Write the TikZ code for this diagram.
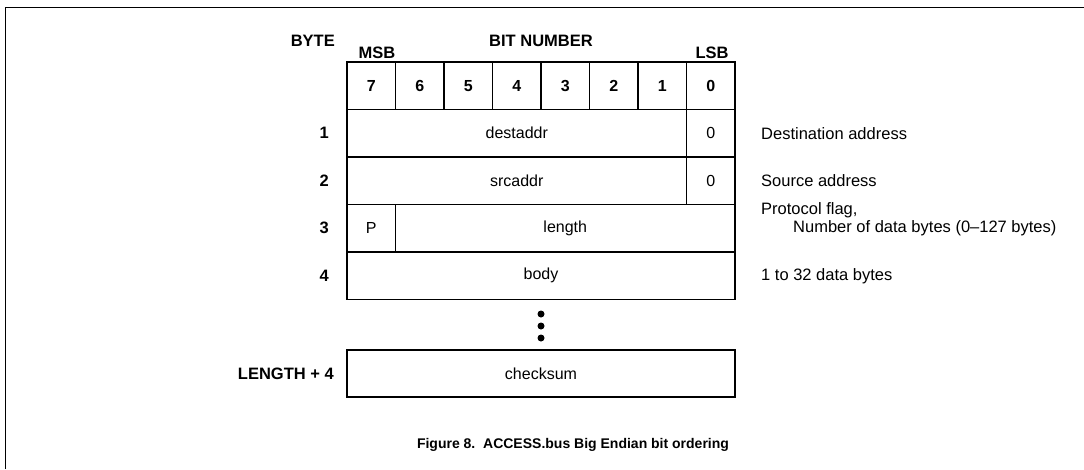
\documentclass[tikz,border=0pt]{standalone}
\usepackage{fontspec}
\setmainfont{Liberation Sans}
\begin{document}
\begin{tikzpicture}[x=1pt,y=-1pt,
  cell/.style={draw, line width=1.7pt, inner sep=0pt, font=\fontsize{16}{19}\selectfont},
  hcell/.style={cell, font=\fontsize{16}{19}\selectfont\bfseries, minimum width=48.5pt, minimum height=47.5pt},
  lbl/.style={anchor=east, inner sep=0pt, font=\fontsize{16.5}{19}\selectfont\bfseries},
  top/.style={inner sep=0pt, font=\fontsize{16.5}{19}\selectfont\bfseries},
  desc/.style={anchor=west, inner sep=0pt, font=\fontsize{16.5}{19}\selectfont},
  dot/.style={circle, fill=black, inner sep=0pt, minimum size=7pt}]
\useasboundingbox (0,0) rectangle (1084,469);
\fill[white] (0,0) rectangle (1084,469);
% frame
\draw[line width=1.7pt] (5.5,469) -- (5.5,7.5) -- (1084,7.5);
% header
\node[lbl] (byte) at (335,40.5) {BYTE};
\node[top] (bitnum) at (541,40.5) {BIT NUMBER};
\node[top] (msb) at (377,53) {MSB};
\node[top] (lsb) at (712,53) {LSB};
\node[hcell] (b7) at (371.25,85.75) {7};
\node[hcell] (b6) at (419.75,85.75) {6};
\node[hcell] (b5) at (468.25,85.75) {5};
\node[hcell] (b4) at (516.75,85.75) {4};
\node[hcell] (b3) at (565.25,85.75) {3};
\node[hcell] (b2) at (613.75,85.75) {2};
\node[hcell] (b1) at (662.25,85.75) {1};
\node[hcell] (b0) at (710.75,85.75) {0};
% row 1
\node[lbl] (r1) at (329,133.25) {1};
\node[cell, minimum width=339.5pt, minimum height=47.5pt] (dest) at (516.75,133.25) {destaddr};
\node[cell, minimum width=48.5pt, minimum height=47.5pt] (dest0) at (710.75,133.25) {0};
\node[desc] (d1) at (761,133.25) {Destination address};
% row 2
\node[lbl] (r2) at (329,180.75) {2};
\node[cell, minimum width=339.5pt, minimum height=47.5pt] (src) at (516.75,180.75) {srcaddr};
\node[cell, minimum width=48.5pt, minimum height=47.5pt] (src0) at (710.75,180.75) {0};
\node[desc] (d2) at (761,180.75) {Source address};
% row 3
\node[lbl] (r3) at (329,228.25) {3};
\node[cell, minimum width=48.5pt, minimum height=47.5pt] (p) at (371.25,228.25) {P};
\node[cell, minimum width=339.5pt, minimum height=47.5pt] (len) at (565.25,228.25) {length};
\node[desc] (d3a) at (761,210.5) {Protocol flag,};
\node[desc] (d3b) at (793,228.5) {Number of data bytes (0--127 bytes)};
% row 4
\node[lbl] (r4) at (329,275.75) {4};
\node[cell, minimum width=388pt, minimum height=47.5pt] (body) at (541,275.75) {body};
\node[desc] (d4) at (761,276) {1 to 32 data bytes};
% dots
\node[dot] (dt1) at (541,314) {};
\node[dot] (dt2) at (541,326) {};
\node[dot] (dt3) at (541,338) {};
% checksum
\node[lbl] (r5) at (334,373.5) {LENGTH + 4};
\node[cell, minimum width=388pt, minimum height=47.5pt] (chk) at (541,373.5) {checksum};
% caption
\node[inner sep=0pt, font=\fontsize{14}{17}\selectfont\bfseries] (cap) at (573,445) {Figure 8.\ \ ACCESS.bus Big Endian bit ordering};
\end{tikzpicture}
\end{document}
